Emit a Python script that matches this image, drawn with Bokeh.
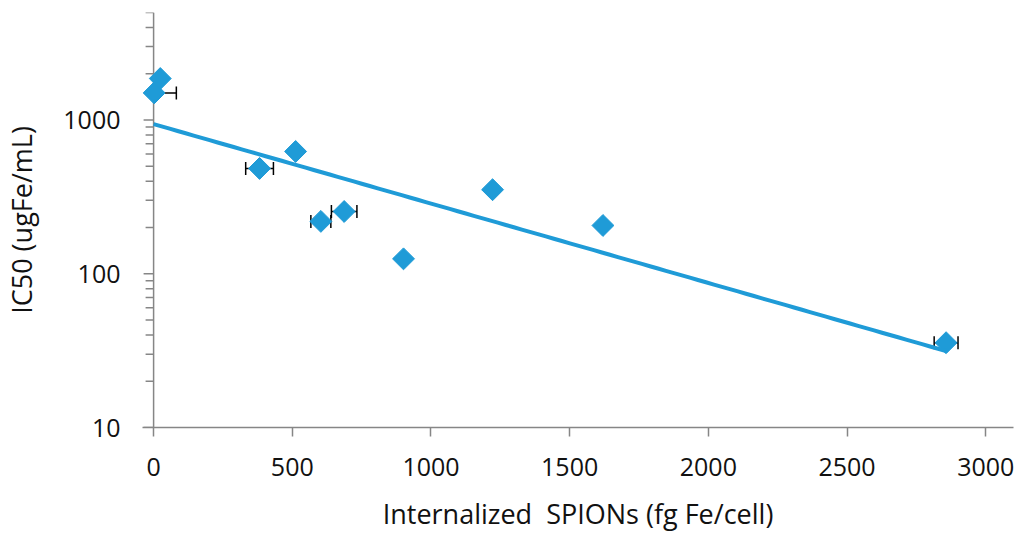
import numpy as np
from bokeh.plotting import figure
from bokeh.models import Range1d, FixedTicker, PrintfTickFormatter, ColumnDataSource
from bokeh.embed import file_html
from bokeh.resources import INLINE

# Data
x_vals = [2, 24, 382, 512, 603, 687, 901, 1222, 1620, 2857]
ic50 = [1500, 1860, 484, 624, 219, 254, 125, 352, 206, 35.6]
x_err = [80, 10, 50, 10, 36, 46, 10, 10, 10, 43]

x_ticks = [0, 500, 1000, 1500, 2000, 2500, 3000]
y_ticks = [10, 100, 1000]
y_minor = [20, 30, 40, 50, 60, 70, 80, 90, 200, 300, 400, 500, 600, 700, 800, 900,
           2000, 3000, 4000, 5000]

BLUE = "#1f9bd7"
GREY = "#868686"
FONT = "Open Sans"

x = np.array(x_vals, dtype=float)
y = np.array(ic50, dtype=float)
e = np.array(x_err, dtype=float)

# exponential trendline (least squares on log y)
b, a = np.polyfit(x, np.log(y), 1)
tx = np.linspace(0, x.max(), 100)
ty = np.exp(a + b * tx)

Y0, Y1 = 10, 5000
p = figure(width=1020, height=534, output_backend="svg", toolbar_location=None,
           x_range=Range1d(-40, 3100), y_range=Range1d(Y0, Y1), y_axis_type="log",
           min_border_left=142, min_border_right=7, min_border_top=12, min_border_bottom=106)
p.outline_line_color = None
p.xgrid.visible = False
p.ygrid.visible = False

# y axis line and ticks drawn at x = 0 (so the marker at x~0 is not clipped)
p.segment(x0=[0], y0=[Y0], x1=[0], y1=[Y1], line_color=GREY, line_width=1.5)
p.ray(x=[0] * len(y_ticks), y=y_ticks, length=10, length_units="screen", angle=np.pi,
      line_color=GREY, line_width=1.5)
p.ray(x=[0] * len(y_minor), y=y_minor, length=8, length_units="screen", angle=np.pi,
      line_color=GREY, line_width=1.5)

# error bars
src = ColumnDataSource(dict(x=x, y=y, xl=np.maximum(x - e, 0), xu=x + e, xcap=x - e))
p.segment(x0="xl", y0="y", x1="xu", y1="y", source=src, line_color="black", line_width=1.5)
p.scatter(x="xcap", y="y", source=src, marker="dash", angle=np.pi / 2, size=13,
          line_color="black", line_width=1.5)
p.scatter(x="xu", y="y", source=src, marker="dash", angle=np.pi / 2, size=13,
          line_color="black", line_width=1.5)

p.scatter(x="x", y="y", source=src, marker="square", angle=np.pi / 4, size=15.5,
          fill_color=BLUE, line_color=BLUE)
p.line(tx, ty, line_color=BLUE, line_width=4)

for ax in (p.xaxis[0], p.yaxis[0]):
    ax.axis_line_color = GREY
    ax.axis_line_width = 1.5
    ax.major_tick_line_color = GREY
    ax.major_tick_line_width = 1.5
    ax.minor_tick_line_color = GREY
    ax.minor_tick_line_width = 1.5
    ax.major_tick_in = 0
    ax.minor_tick_in = 0
    ax.major_label_text_font = FONT
    ax.major_label_text_font_size = "25px"
    ax.major_label_text_color = "#111111"
    ax.axis_label_text_font = FONT
    ax.axis_label_text_font_size = "27px"
    ax.axis_label_text_font_style = "normal"
    ax.axis_label_text_color = "#111111"

p.xaxis.ticker = FixedTicker(ticks=x_ticks, minor_ticks=[])
p.xaxis.major_tick_out = 9
p.xaxis.minor_tick_out = 0
p.xaxis.major_label_standoff = 21
p.xaxis.axis_label = "Internalized\u00a0 SPIONs (fg Fe/cell)"
p.xaxis.axis_label_standoff = 16

p.yaxis.ticker = FixedTicker(ticks=y_ticks, minor_ticks=[])
p.yaxis.formatter = PrintfTickFormatter(format="%d")
p.yaxis.axis_line_color = None
p.yaxis.major_tick_line_color = None
p.yaxis.minor_tick_line_color = None
p.yaxis.major_tick_out = 0
p.yaxis.minor_tick_out = 0
p.yaxis.major_label_standoff = 22
p.yaxis.axis_label = "IC50 (ugFe/mL)"
p.yaxis.axis_label_standoff = 20

open("out.html", "w").write(file_html(p, INLINE))
